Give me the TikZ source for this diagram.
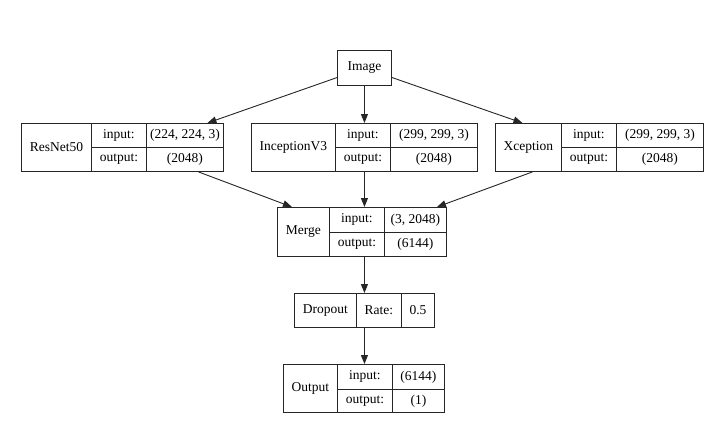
\documentclass[tikz,border=0pt]{standalone}
\usepackage{fontspec}
\setmainfont{Liberation Serif}
\usetikzlibrary{arrows.meta}
\begin{document}
\begin{tikzpicture}[x=1pt,y=-1pt,
  rec/.style={draw=black!85, line width=0.9pt, inner sep=0pt, anchor=north west},
  cell/.style={draw=black!85, line width=0.9pt, inner sep=0pt, anchor=north west, font=\fontsize{13.5}{16}\selectfont},
  edge/.style={draw=black!85, line width=0.9pt, -{Triangle[length=9pt,width=7pt]}}]
\useasboundingbox[fill=white] (0,0) rectangle (722,428);

% Image
\node[cell, minimum width=54pt, minimum height=35pt] (image) at (337,50) {Image};

% ResNet50
\node[rec, minimum width=202pt, minimum height=48pt] (resnet) at (21,123) {};
\node[cell, minimum width=70pt, minimum height=48pt] (resnet-n) at (21,123) {ResNet50};
\node[cell, minimum width=55pt, minimum height=24pt] (resnet-il) at (91,123) {input:};
\node[cell, minimum width=55pt, minimum height=24pt] (resnet-ol) at (91,147) {output:};
\node[cell, minimum width=77pt, minimum height=24pt] (resnet-iv) at (146,123) {(224, 224, 3)};
\node[cell, minimum width=77pt, minimum height=24pt] (resnet-ov) at (146,147) {(2048)};

% InceptionV3
\node[rec, minimum width=226pt, minimum height=48pt] (incep) at (251,123) {};
\node[cell, minimum width=84pt, minimum height=48pt] (incep-n) at (251,123) {InceptionV3};
\node[cell, minimum width=55pt, minimum height=24pt] (incep-il) at (335,123) {input:};
\node[cell, minimum width=55pt, minimum height=24pt] (incep-ol) at (335,147) {output:};
\node[cell, minimum width=87pt, minimum height=24pt] (incep-iv) at (390,123) {(299, 299, 3)};
\node[cell, minimum width=87pt, minimum height=24pt] (incep-ov) at (390,147) {(2048)};

% Xception
\node[rec, minimum width=208pt, minimum height=48pt] (xcep) at (495,123) {};
\node[cell, minimum width=66pt, minimum height=48pt] (xcep-n) at (495,123) {Xception};
\node[cell, minimum width=55pt, minimum height=24pt] (xcep-il) at (561,123) {input:};
\node[cell, minimum width=55pt, minimum height=24pt] (xcep-ol) at (561,147) {output:};
\node[cell, minimum width=87pt, minimum height=24pt] (xcep-iv) at (616,123) {(299, 299, 3)};
\node[cell, minimum width=87pt, minimum height=24pt] (xcep-ov) at (616,147) {(2048)};

% Merge
\node[rec, minimum width=169pt, minimum height=49pt] (merge) at (277,207) {};
\node[cell, minimum width=52pt, minimum height=49pt] (merge-n) at (277,207) {Merge};
\node[cell, minimum width=55pt, minimum height=25pt] (merge-il) at (329,207) {input:};
\node[cell, minimum width=55pt, minimum height=24pt] (merge-ol) at (329,232) {output:};
\node[cell, minimum width=62pt, minimum height=25pt] (merge-iv) at (384,207) {(3, 2048)};
\node[cell, minimum width=62pt, minimum height=24pt] (merge-ov) at (384,232) {(6144)};

% Dropout
\node[rec, minimum width=140pt, minimum height=34pt] (drop) at (294,293) {};
\node[cell, minimum width=62pt, minimum height=34pt] (drop-n) at (294,293) {Dropout};
\node[cell, minimum width=45pt, minimum height=34pt] (drop-l) at (356,293) {Rate:};
\node[cell, minimum width=33pt, minimum height=34pt] (drop-v) at (401,293) {0.5};

% Output
\node[rec, minimum width=161pt, minimum height=48pt] (out) at (283,364) {};
\node[cell, minimum width=54pt, minimum height=48pt] (out-n) at (283,364) {Output};
\node[cell, minimum width=55pt, minimum height=25pt] (out-il) at (337,364) {input:};
\node[cell, minimum width=55pt, minimum height=23pt] (out-ol) at (337,389) {output:};
\node[cell, minimum width=52pt, minimum height=25pt] (out-iv) at (392,364) {(6144)};
\node[cell, minimum width=52pt, minimum height=23pt] (out-ov) at (392,389) {(1)};

% edges
\draw[edge] (image) -- ([xshift=85pt]resnet.north);
\draw[edge] (image.south) -- (image.south |- incep.north);
\draw[edge] (image) -- ([xshift=-77pt]xcep.north);
\draw[edge] ([xshift=76pt]resnet.south) -- ([xshift=-70pt]merge.north);
\draw[edge] (incep.south) -- (incep.south |- merge.north);
\draw[edge] ([xshift=-67pt]xcep.south) -- ([xshift=75pt]merge.north);
\draw[edge] (drop.north |- merge.south) -- (drop.north);
\draw[edge] (drop.south) -- (drop.south |- out.north);
\end{tikzpicture}
\end{document}
